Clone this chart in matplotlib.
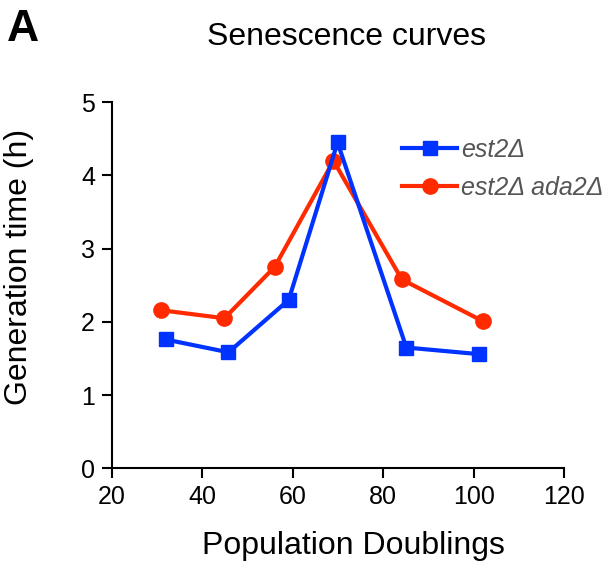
import matplotlib

matplotlib.use("Agg")

import matplotlib.pyplot as plt

plt.rcParams["font.family"] = ["Liberation Sans", "DejaVu Sans"]

# population doublings / generation time (h)
est2_pd = [31.9, 45.8, 59.1, 69.9, 85.1, 101.1]
est2_gen = [1.76, 1.585, 2.30, 4.45, 1.65, 1.56]
ada2_pd = [30.8, 44.9, 56.0, 69.0, 84.1, 102.0]
ada2_gen = [2.16, 2.05, 2.75, 4.20, 2.58, 2.01]

x_ticks = [20, 40, 60, 80, 100, 120]
y_ticks = [0, 1, 2, 3, 4, 5]

fig = plt.figure(figsize=(6.14, 5.74), dpi=100)
ax = fig.add_axes([0.182, 0.184, 0.737, 0.638])

ax.plot(ada2_pd, ada2_gen, color="#ff2a00", lw=3, marker="o", ms=11,
        label="est2Δ ada2Δ", zorder=2)
ax.plot(est2_pd, est2_gen, color="#0033ff", lw=3, marker="s", ms=10,
        label="est2Δ", zorder=3)

ax.set_xlim(20, 120)
ax.set_ylim(0, 5)
ax.set_xticks(x_ticks)
ax.set_yticks(y_ticks)
ax.spines["top"].set_visible(False)
ax.spines["right"].set_visible(False)
for side in ("left", "bottom"):
    ax.spines[side].set_linewidth(1.5)
ax.tick_params(direction="out", length=7, width=1.5, labelsize=18, pad=5)

ax.set_xlabel("Population Doublings", fontsize=23)
ax.set_ylabel("Generation time (h)", fontsize=23)
ax.xaxis.set_label_coords(0.535, -0.17)
ax.yaxis.set_label_coords(-0.172, 0.55)
fig.text(0.564, 0.936, "Senescence curves", fontsize=23, ha="center", va="center")
fig.text(0.012, 0.948, "A", fontsize=32, fontweight="bold", ha="left", va="center")

handles, labels = ax.get_legend_handles_labels()
leg = ax.legend(handles[::-1], labels[::-1], loc="upper left",
                bbox_to_anchor=(0.62, 0.93), frameon=False, fontsize=18,
                handlelength=2.2, handletextpad=0.15, labelspacing=0.55,
                borderaxespad=0)
for t in leg.get_texts():
    t.set_fontstyle("italic")
    t.set_color("#555555")

fig.savefig("out.png", dpi=100)
